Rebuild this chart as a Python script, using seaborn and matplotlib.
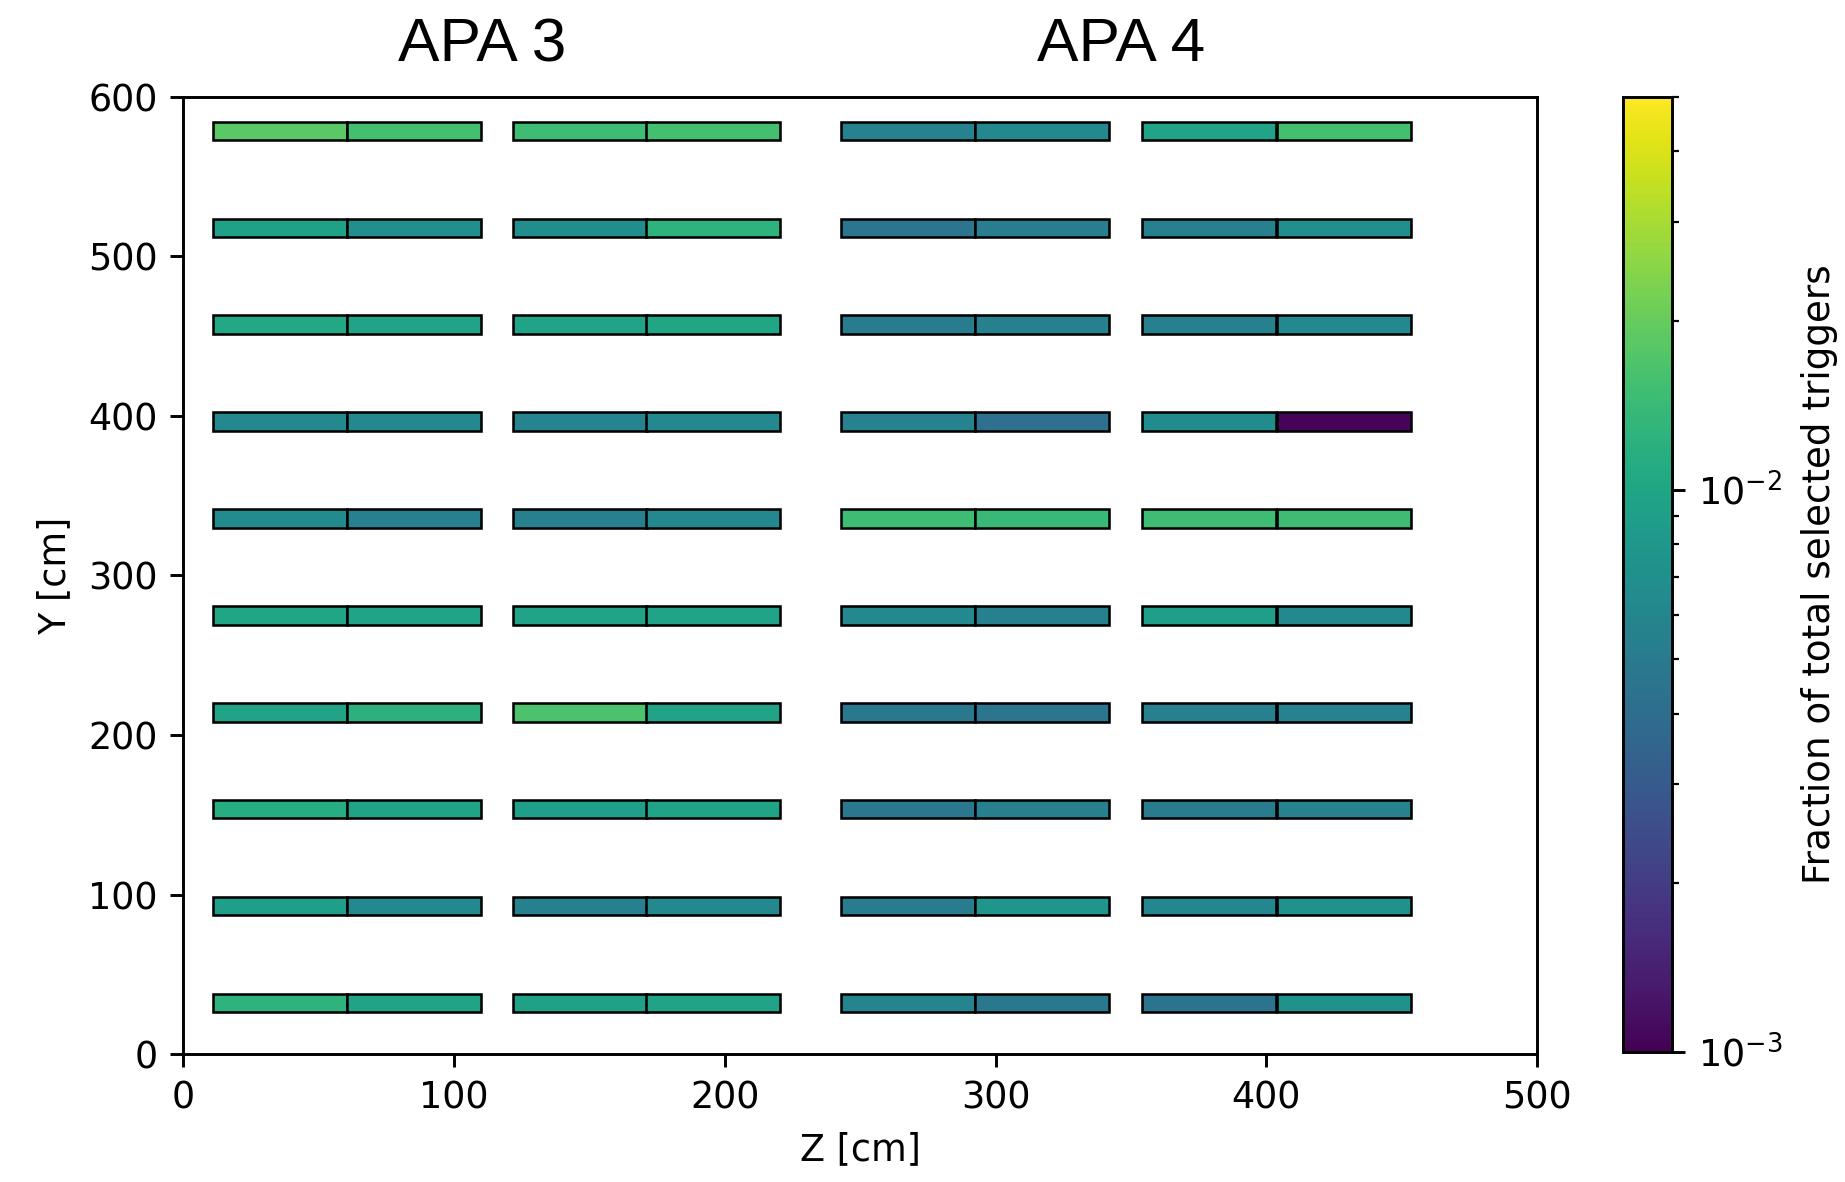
import matplotlib
matplotlib.use("Agg")
import matplotlib.pyplot as plt
from matplotlib.colors import LogNorm
from matplotlib.cm import ScalarMappable
from matplotlib.transforms import blended_transform_factory
import seaborn as sns

# y centres of the ten detector rows [cm], bottom to top
row_y = [32.0, 92.7, 153.5, 214.2, 274.9, 335.7, 396.4, 457.1, 517.8, 578.6]

# left edge of each half-module along Z [cm]
module_z = [11.0, 60.5, 121.8, 171.0, 243.0, 292.5, 354.2, 403.8]

# fraction of total selected triggers per half-module, bottom row to top
apa3_a_left = [0.01248, 0.00877, 0.01130, 0.00967, 0.01006, 0.00654, 0.00629, 0.01046, 0.00930, 0.01845]
apa3_a_right = [0.00967, 0.00629, 0.00967, 0.01223, 0.00967, 0.00538, 0.00629, 0.00967, 0.00707, 0.01546]
apa3_b_left = [0.00930, 0.00538, 0.00877, 0.01640, 0.00967, 0.00538, 0.00582, 0.00967, 0.00680, 0.01490]
apa3_b_right = [0.00967, 0.00629, 0.00967, 0.00967, 0.00967, 0.00629, 0.00629, 0.01006, 0.01248, 0.01546]
apa4_a_left = [0.00582, 0.00498, 0.00470, 0.00479, 0.00629, 0.01459, 0.00560, 0.00498, 0.00460, 0.00560]
apa4_a_right = [0.00479, 0.00765, 0.00538, 0.00460, 0.00538, 0.01403, 0.00425, 0.00538, 0.00518, 0.00629]
apa4_b_left = [0.00443, 0.00605, 0.00498, 0.00538, 0.00877, 0.01487, 0.00654, 0.00538, 0.00538, 0.00967]
apa4_b_right = [0.00735, 0.00735, 0.00560, 0.00560, 0.00629, 0.01487, 0.00104, 0.00629, 0.00707, 0.01546]

module_fracs = [apa3_a_left, apa3_a_right, apa3_b_left, apa3_b_right,
                apa4_a_left, apa4_a_right, apa4_b_left, apa4_b_right]

apa_labels = ["APA 3", "APA 4"]
apa_label_z = [110.3, 346.4]

MODULE_W = 49.5
MODULE_H = 11.5

sns.set_style("ticks", rc={
    "axes.edgecolor": "black",
    "axes.labelcolor": "black",
    "text.color": "black",
    "xtick.color": "black",
    "ytick.color": "black",
    "axes.linewidth": 0.8,
})
plt.rcParams["font.family"] = ["DejaVu Sans"]
plt.rcParams["font.size"] = 10
for ax_name in ("xtick", "ytick"):
    plt.rcParams[f"{ax_name}.major.size"] = 3.5
    plt.rcParams[f"{ax_name}.major.width"] = 0.8
    plt.rcParams[f"{ax_name}.minor.size"] = 2.0
    plt.rcParams[f"{ax_name}.minor.width"] = 0.6
    plt.rcParams[f"{ax_name}.labelsize"] = 10

DPI = 263
fig = plt.figure(figsize=(1845 / DPI, 1182 / DPI), dpi=DPI)
ax = fig.add_axes([0.09935, 0.10804, 0.7337, 0.8103])

cmap = sns.color_palette("viridis", as_cmap=True)
norm = LogNorm(vmin=1e-3, vmax=5e-2)

for z_left, fracs in zip(module_z, module_fracs):
    ax.barh(row_y, width=MODULE_W, height=MODULE_H, left=z_left,
            color=cmap(norm(fracs)), edgecolor="black", linewidth=0.7)

ax.set_xlim(0, 500)
ax.set_ylim(0, 600)
ax.set_xticks([0, 100, 200, 300, 400, 500])
ax.set_yticks([0, 100, 200, 300, 400, 500, 600])
ax.set_xlabel("Z [cm]")
ax.set_ylabel("Y [cm]")
for side in ("top", "right", "left", "bottom"):
    ax.spines[side].set_visible(True)
    ax.spines[side].set_linewidth(0.8)

trans = blended_transform_factory(ax.transData, fig.transFigure)
for label, z in zip(apa_labels, apa_label_z):
    ax.text(z, 0.9615, label, transform=trans, ha="center", va="center",
            fontsize=17, family=["Liberation Sans", "DejaVu Sans"])

cax = fig.add_axes([0.8797, 0.110, 0.0266, 0.808])
sm = ScalarMappable(norm=norm, cmap=cmap)
cbar = fig.colorbar(sm, cax=cax)
cbar.set_label("Fraction of total selected triggers", labelpad=5, fontsize=10.2)
cbar.outline.set_linewidth(0.8)

fig.savefig("out.png", dpi=DPI, facecolor="white")
